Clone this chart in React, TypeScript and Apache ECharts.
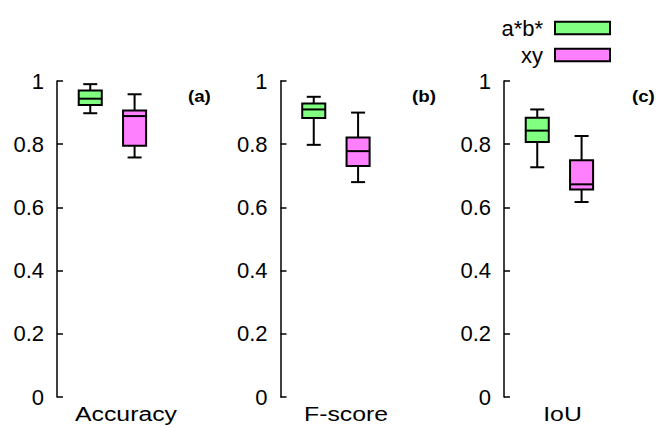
import React, { useEffect, useRef } from "react";
import * as echarts from "echarts";

const categories = ["Accuracy", "F-score", "IoU"];
const panelTags = ["(a)", "(b)", "(c)"];
const seriesNames = ["a*b*", "xy"];
// [min, q1, median, q3, max]
const abStats = [
  [0.898, 0.924, 0.944, 0.970, 0.990],
  [0.798, 0.883, 0.910, 0.929, 0.950],
  [0.727, 0.807, 0.843, 0.884, 0.910],
];
const xyStats = [
  [0.758, 0.795, 0.889, 0.907, 0.958],
  [0.680, 0.731, 0.778, 0.821, 0.900],
  [0.617, 0.657, 0.673, 0.749, 0.826],
];
const seriesColors = ["#80ff80", "#ff80ff"];
const seriesX = [1, 2];

const FONT = "'Liberation Sans', Arial, sans-serif";

export default function App() {
  const ref = useRef<HTMLDivElement>(null);
  useEffect(() => {
    if (!ref.current) return;
    const chart = echarts.init(ref.current, null, { renderer: "svg" });
    const panelLeft = [57, 280.5, 504];
    const grids = panelLeft.map((l) => ({ left: l, top: 81, width: 133, height: 316 }));
    const xAxes = panelLeft.map((_, i) => ({
      type: "value",
      gridIndex: i,
      min: 0.25,
      max: 3.25,
      show: false,
    }));
    const yAxes = panelLeft.map((_, i) => ({
      type: "value",
      gridIndex: i,
      min: 0,
      max: 1,
      interval: 0.2,
      axisLine: { show: true, lineStyle: { color: "#000", width: 1.5 } },
      axisTick: { show: true, inside: true, length: 6, lineStyle: { color: "#000", width: 1.5 } },
      splitLine: { show: false },
      axisLabel: { fontSize: 22, color: "#000", margin: 13, fontFamily: FONT },
    }));
    const allStats = [abStats, xyStats];
    const renderItem = (params: any, api: any) => {
      const x = api.value(0);
      const pMin = api.coord([x, api.value(1)]);
      const pQ1 = api.coord([x, api.value(2)]);
      const pMed = api.coord([x, api.value(3)]);
      const pQ3 = api.coord([x, api.value(4)]);
      const pMax = api.coord([x, api.value(5)]);
      const half = api.size([0.26, 0])[0];
      const cap = api.size([0.158, 0])[0];
      const cx = pMed[0];
      const lineStyle = { stroke: "#000", lineWidth: 2 };
      return {
        type: "group",
        children: [
          { type: "line", shape: { x1: cx, y1: pQ3[1], x2: cx, y2: pMax[1] }, style: lineStyle },
          { type: "line", shape: { x1: cx, y1: pQ1[1], x2: cx, y2: pMin[1] }, style: lineStyle },
          { type: "line", shape: { x1: cx - cap, y1: pMax[1], x2: cx + cap, y2: pMax[1] }, style: lineStyle },
          { type: "line", shape: { x1: cx - cap, y1: pMin[1], x2: cx + cap, y2: pMin[1] }, style: lineStyle },
          {
            type: "rect",
            shape: { x: cx - half, y: pQ3[1], width: half * 2, height: pQ1[1] - pQ3[1] },
            style: { fill: api.visual("color"), stroke: "#000", lineWidth: 2 },
          },
          { type: "line", shape: { x1: cx - half, y1: pMed[1], x2: cx + half, y2: pMed[1] }, style: lineStyle },
        ],
      };
    };
    const series: any[] = [];
    panelLeft.forEach((_, i) => {
      seriesNames.forEach((name, s) => {
        series.push({
          type: "custom",
          name,
          xAxisIndex: i,
          yAxisIndex: i,
          itemStyle: { color: seriesColors[s] },
          encode: { x: 0, y: [1, 2, 3, 4, 5] },
          data: [[seriesX[s], ...allStats[s][i]]],
          renderItem,
        });
      });
    });
    const graphic: any[] = [];
    const labelCenters = [126, 346, 562.5];
    categories.forEach((c, i) => {
      graphic.push({
        type: "text",
        x: labelCenters[i],
        y: 414,
        scaleX: 1.18,
        style: { text: c, fontSize: 21, fill: "#000", fontFamily: FONT, align: "center", verticalAlign: "middle" },
      });
    });
    const tagLefts = [188, 412, 632];
    panelTags.forEach((t, i) => {
      graphic.push({
        type: "text",
        x: tagLefts[i],
        y: 96,
        scaleX: 1.1,
        style: { text: t, fontSize: 17, fontWeight: "bold", fill: "#000", fontFamily: FONT, align: "left", verticalAlign: "middle" },
      });
    });
    chart.setOption({
      animation: false,
      backgroundColor: "#fff",
      grid: grids,
      xAxis: xAxes,
      yAxis: yAxes,
      legend: {
        data: seriesNames,
        orient: "vertical",
        right: 45,
        top: 17,
        align: "right",
        padding: 0,
        itemWidth: 55,
        itemHeight: 12.5,
        itemGap: 5,
        selectedMode: false,
        icon: "rect",
        itemStyle: { borderColor: "#000", borderWidth: 2 },
        textStyle: { fontSize: 22, color: "#000", fontFamily: FONT, padding: [0, 7, 0, 0] },
      },
      graphic,
      series,
    });
    return () => chart.dispose();
  }, []);
  return <div ref={ref} style={{ position: "fixed", left: 0, top: 0, width: 656, height: 428 }} />;
}
